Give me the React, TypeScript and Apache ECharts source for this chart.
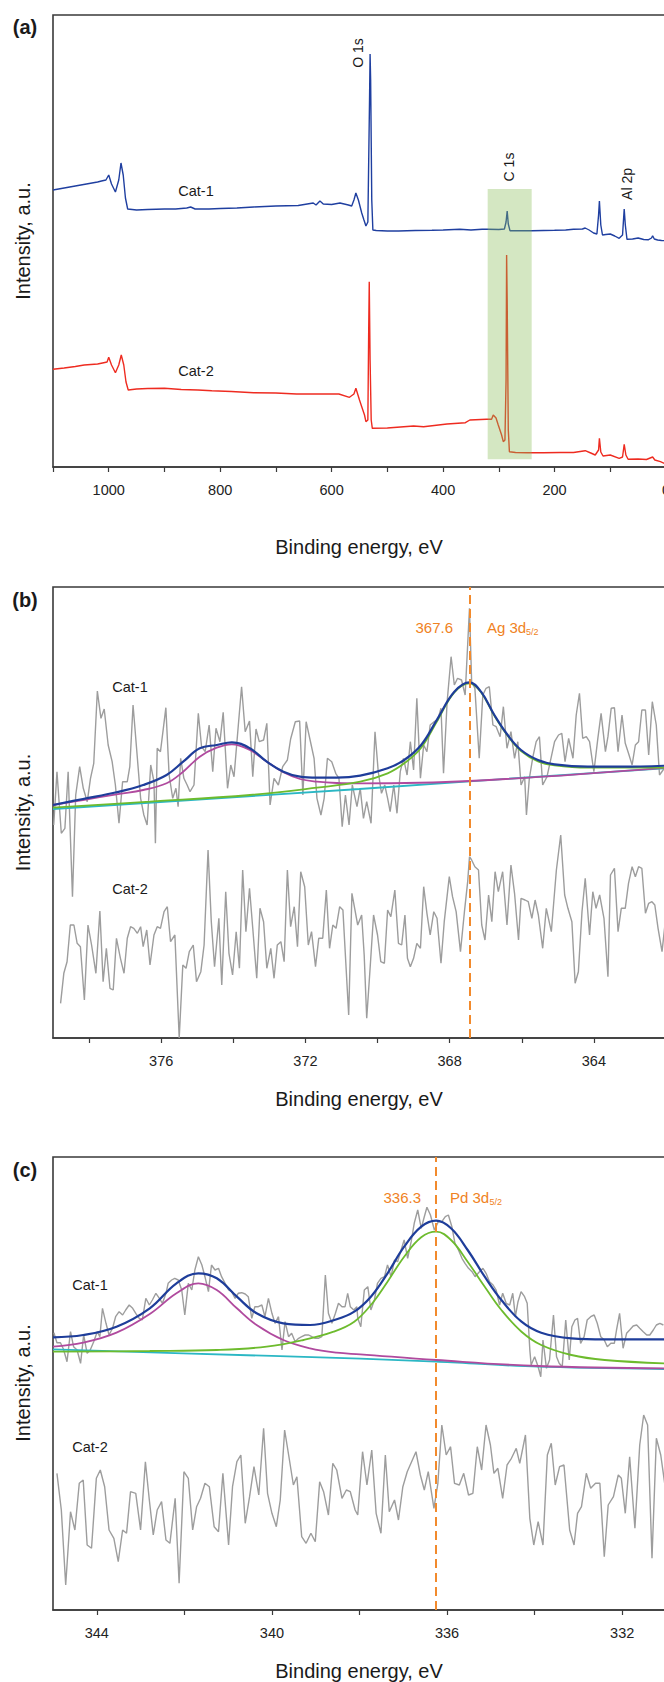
import React, { useEffect, useRef } from 'react';
import * as echarts from 'echarts';

const FONT = '"Liberation Sans", Arial, Helvetica, sans-serif';
const ORANGE = '#f08223';

// ---------- Panel (a): survey spectra [binding energy eV, intensity a.u.] ----------
const surveyCat1: [number, number][] = [
  [1100, 277], [1080, 279], [1060, 281], [1040, 283], [1020, 285], [1013, 286], [1005, 287], [1000, 292], [995, 283],
  [988, 275], [982, 287], [978, 304], [974, 292], [970, 269], [966, 258], [950, 257], [930, 257.5], [900, 258],
  [880, 258], [860, 259], [853, 260], [845, 258], [820, 258], [800, 258.5], [770, 259], [740, 260], [700, 261],
  [660, 261.5], [633, 264], [628, 262], [621, 266], [615, 263], [600, 262.5], [585, 264], [570, 262], [564, 261],
  [560, 267], [556.5, 274], [552, 267], [546, 254], [542, 247], [538.5, 241], [535, 245], [532, 367], [531, 413],
  [530, 387], [528, 267], [526, 237], [520, 236.5], [500, 236], [480, 236], [450, 236.5], [420, 236.7], [400, 237],
  [370, 237.7], [350, 237], [330, 237.7], [320, 237.7], [300, 237.5], [290, 238], [287, 245], [285, 256], [283, 243],
  [280, 236.3], [260, 236.3], [240, 236.3], [220, 236.5], [200, 236.7], [180, 237], [166, 237.7], [150, 238],
  [145, 239], [138, 237], [130, 234], [124, 233], [121, 252], [119.5, 266], [117, 242], [114, 232], [108, 232.5],
  [100, 233], [92, 231], [84, 228.7], [78, 232], [75, 258], [73, 242], [70, 227.7], [60, 228], [50, 229], [40, 227.5],
  [32, 227.2], [26, 229], [24, 231.3], [21, 228], [15, 227], [8, 226.5], [0, 226.3]
];
const surveyCat2: [number, number][] = [
  [1100, 97.7], [1080, 99], [1060, 100.5], [1044, 102], [1020, 103], [1009, 104.3], [1003, 105], [1000, 109.7],
  [995, 102], [988, 94.3], [982, 102], [977.5, 112], [973, 102], [969, 85], [965, 77], [950, 78], [930, 78.5],
  [900, 78.7], [870, 77.5], [840, 77], [815, 76.3], [780, 75.5], [740, 74.3], [700, 74], [663, 73], [620, 73],
  [587, 73], [568, 69.7], [560, 73], [556.5, 78.7], [550, 67], [546, 60.3], [541, 52], [538.5, 45.3], [535, 47],
  [533.5, 137], [532.5, 185.3], [531, 107], [529, 47], [527, 38.7], [500, 39], [453, 41], [435, 40.3], [393, 43],
  [360, 44.3], [352, 47], [322, 47.7], [313, 47.7], [310, 52], [305, 49], [301, 42], [295, 32], [292, 25.3],
  [289, 27], [287, 87], [286, 212], [285, 167], [283, 37], [281, 15.3], [270, 14.5], [250, 14.3], [220, 14.3],
  [190, 14.5], [166, 14.5], [145, 16.3], [135, 14], [127, 12], [121, 17], [119.5, 28.7], [117, 15], [113, 11],
  [100, 12], [84, 8.7], [78, 10], [75, 22.7], [72, 12], [68, 7.7], [50, 8], [35, 7.5], [24, 10], [20, 7], [10, 5.3],
  [3, 3.7], [0, 3.5]
];
// C 1s highlight band: [from eV, to eV, low intensity, high intensity]
const c1sBand: number[][] = [[320, 241, 7.7, 278]];
const surveyTicks = [0, 100, 200, 300, 400, 500, 600, 700, 800, 900, 1000, 1100];
const surveyLabels = [0, 200, 400, 600, 800, 1000];

// ---------- Panel (b): Ag 3d ----------
const agCat1: [number, number][] = [
  [378.98, 213], [378.89, 266.3], [378.77, 204.7], [378.67, 209.7], [378.58, 266.3], [378.46, 141.3], [378.37, 243],
  [378.26, 271.3], [378.16, 249.7], [378.05, 236.3], [377.96, 259.7], [377.87, 274.7], [377.77, 347], [377.67, 319.7],
  [377.58, 329], [377.47, 293], [377.36, 276.3], [377.27, 253], [377.17, 214.7], [377.07, 256.3], [376.94, 256.3],
  [376.87, 271.3], [376.78, 333], [376.66, 279.7], [376.57, 239.7], [376.48, 223], [376.39, 213], [376.29, 273],
  [376.2, 256.3], [376.16, 194.7], [376.11, 289.7], [376.02, 286.3], [375.94, 309.7], [375.87, 330.3], [375.78, 263],
  [375.68, 239.7], [375.59, 249.7], [375.53, 231.3], [375.46, 279.7], [375.37, 259.7], [375.28, 253], [375.2, 246.3],
  [375.09, 253], [374.97, 324.7], [374.88, 291.3], [374.78, 286.3], [374.67, 313], [374.57, 266.3], [374.48, 309.7],
  [374.37, 296.3], [374.28, 325.7], [374.16, 249.7], [374.07, 273], [373.98, 261.3], [373.86, 313], [373.77, 351.3],
  [373.67, 306.3], [373.55, 317], [373.46, 261.3], [373.37, 309], [373.28, 296.3], [373.16, 298], [373.07, 314.7],
  [372.98, 233], [372.87, 259.7], [372.75, 253], [372.63, 271.3], [372.5, 278], [372.41, 299], [372.28, 316.3],
  [372.16, 317], [372.07, 243], [371.98, 316.3], [371.87, 298], [371.76, 279.7], [371.68, 239.7], [371.57, 223],
  [371.48, 239.7], [371.39, 279.7], [371.27, 276.3], [371.16, 264.7], [371.07, 259.7], [370.98, 211.3], [370.89, 243],
  [370.79, 213], [370.7, 253], [370.57, 231.3], [370.48, 249.7], [370.39, 219.7], [370.3, 236.3], [370.18, 214.7],
  [370.07, 306.3], [369.98, 266.3], [369.89, 244.7], [369.8, 253], [369.72, 239.7], [369.65, 226.3], [369.55, 253],
  [369.46, 224.7], [369.37, 266.3], [369.28, 279.7], [369.18, 263], [369.09, 296.3], [369.0, 268], [368.91, 339.7],
  [368.81, 259.7], [368.72, 293], [368.63, 286.3], [368.54, 313], [368.43, 316.3], [368.33, 318], [368.24, 329.7],
  [368.17, 264.7], [368.07, 336.3], [367.96, 381.3], [367.87, 353], [367.78, 359.7], [367.67, 358], [367.57, 343],
  [367.45, 429.7], [367.39, 356.3], [367.3, 349.7], [367.18, 279.7], [367.08, 343], [366.99, 349.7], [366.9, 351.3],
  [366.8, 313], [366.71, 311.3], [366.6, 301.3], [366.51, 331.3], [366.41, 289.7], [366.3, 306.3], [366.2, 279.7],
  [366.11, 296.3], [366.02, 253], [365.92, 261.3], [365.87, 223], [365.79, 259.7], [365.69, 281.3], [365.6, 296.3],
  [365.51, 301.3], [365.42, 253], [365.3, 261.3], [365.19, 279.7], [365.09, 296.3], [364.98, 303], [364.89, 304.7],
  [364.8, 276.3], [364.7, 299.7], [364.58, 279.7], [364.49, 323], [364.4, 344.7], [364.31, 299.7], [364.21, 301.3],
  [364.12, 296.3], [364.0, 266.3], [363.89, 299.7], [363.8, 324.7], [363.68, 286.3], [363.61, 301.3], [363.52, 329.7],
  [363.43, 330.3], [363.33, 286.3], [363.22, 323], [363.13, 294.7], [363.04, 284.7], [362.94, 273], [362.85, 293],
  [362.76, 296.3], [362.67, 328], [362.57, 328], [362.48, 283], [362.38, 336.3], [362.27, 313], [362.18, 263],
  [362.08, 268], [362.02, 273]
];
const agCat2: [number, number][] = [
  [378.79, 34.7], [378.7, 64.7], [378.61, 76.3], [378.52, 113], [378.42, 113], [378.33, 94.7], [378.24, 91.3],
  [378.13, 38], [378.03, 113], [377.93, 93], [377.81, 64.7], [377.7, 127], [377.61, 56.3], [377.52, 89.7],
  [377.42, 49.7], [377.33, 48], [377.24, 99.7], [377.13, 79.7], [377.03, 64.7], [376.94, 99.7], [376.85, 111.3],
  [376.76, 109.7], [376.66, 104.7], [376.57, 111.3], [376.5, 91.3], [376.4, 108], [376.31, 73], [376.2, 103],
  [376.11, 111.3], [376.02, 109.7], [375.92, 126.3], [375.83, 131.3], [375.74, 96.3], [375.62, 103], [375.5, 0],
  [375.4, 73], [375.31, 69.7], [375.22, 86.3], [375.11, 93], [375.02, 56.3], [374.9, 66.3], [374.81, 93], [374.7, 188],
  [374.61, 116.3], [374.52, 71.3], [374.4, 119.7], [374.32, 53], [374.21, 146.3], [374.12, 84.7], [374.02, 63],
  [373.92, 106.3], [373.83, 69.7], [373.74, 168], [373.65, 106.3], [373.55, 149.7], [373.46, 109.7], [373.35, 59.7],
  [373.26, 129.7], [373.16, 116.3], [373.07, 69.7], [372.96, 89.7], [372.87, 59.7], [372.78, 93], [372.68, 96.3],
  [372.59, 76.3], [372.5, 168], [372.41, 111.3], [372.31, 131.3], [372.22, 91.3], [372.13, 166.3], [372.02, 151.3],
  [371.92, 93], [371.83, 106.3], [371.72, 71.3], [371.63, 99.7], [371.52, 99.7], [371.42, 148], [371.33, 89.7],
  [371.24, 113], [371.15, 109.7], [371.05, 131.3], [370.96, 128], [370.8, 23], [370.71, 144.7], [370.55, 113],
  [370.44, 123], [370.37, 83], [370.3, 19.7], [370.2, 73], [370.11, 123], [370.0, 103], [369.91, 76.3], [369.81, 74.7],
  [369.72, 128], [369.63, 121.3], [369.52, 148], [369.42, 94.7], [369.33, 93], [369.24, 123], [369.17, 79.7],
  [369.09, 71.3], [369.0, 79.7], [368.91, 94.7], [368.81, 89.7], [368.72, 151.3], [368.63, 124.7], [368.54, 103],
  [368.44, 126.3], [368.35, 119.7], [368.24, 74.7], [368.15, 116.3], [368.01, 161.3], [367.92, 141.3], [367.82, 126.3],
  [367.7, 86.3], [367.59, 126.3], [367.5, 156.3], [367.45, 181.3], [367.39, 178], [367.3, 171.3], [367.2, 168],
  [367.11, 113], [367.02, 98], [366.92, 143], [366.83, 116.3], [366.74, 166.3], [366.65, 146.3], [366.53, 166.3],
  [366.41, 113], [366.3, 173], [366.2, 144.7], [366.09, 98], [366.02, 139.7], [365.91, 138], [365.82, 136.3],
  [365.72, 119.7], [365.63, 138], [365.54, 123], [365.42, 89.7], [365.32, 129.7], [365.18, 106.3], [365.04, 168],
  [364.92, 203], [364.81, 143], [364.72, 129.7], [364.61, 116.3], [364.52, 54.7], [364.43, 66.3], [364.33, 126.3],
  [364.24, 159.7], [364.12, 103], [364.03, 146.3], [363.94, 129.7], [363.84, 143], [363.72, 119.7], [363.61, 61.3],
  [363.54, 163], [363.43, 169.7], [363.33, 106.3], [363.24, 129.7], [363.13, 129.7], [363.04, 154.7], [362.94, 171.3],
  [362.85, 161.3], [362.76, 171.3], [362.67, 169.7], [362.57, 124.7], [362.48, 134.7], [362.39, 136.3], [362.31, 133],
  [362.22, 109.7], [362.11, 86.3], [362.02, 116.3]
];
const agBaseline: [number, number][] = [[379, 229], [370.5, 249], [367.45, 256.7], [362, 269.7]];
const agPeak32: [number, number][] = [
  [379, 233], [378.17, 238], [377.24, 243.7], [376.5, 248], [375.85, 254.7], [375.39, 266.3], [374.93, 281.3],
  [374.46, 290.3], [374.04, 293.7], [373.54, 288], [373.07, 276.3], [372.61, 265.7], [372.15, 259], [371.68, 256.3],
  [371.13, 255], [370.48, 254.7], [367.45, 257], [362.02, 270.3]
];
const agPeak52: [number, number][] = [
  [379, 230.3], [376.31, 236.3], [373.54, 243], [371.68, 250.3], [370.48, 256.3], [369.72, 264.7], [369.26, 274.7],
  [368.79, 290.3], [368.33, 318], [367.87, 345.7], [367.45, 354.7], [367.13, 345.7], [366.76, 322.3], [366.39, 302.3],
  [366.02, 287], [365.55, 276.7], [365.09, 272.7], [364.17, 270.3], [363.24, 270.3], [362.02, 270.3]
];
const agEnvelope: [number, number][] = [
  [379, 233], [378.17, 239], [377.24, 245.7], [376.5, 253], [375.85, 263], [375.39, 276.3], [374.93, 289.7],
  [374.46, 293], [374.04, 295.7], [373.54, 289.7], [373.07, 276.3], [372.61, 266.3], [372.15, 261.3], [371.68, 260.3],
  [371.13, 260.3], [370.48, 262.3], [369.72, 269.7], [369.26, 278], [368.79, 293], [368.33, 319.7], [367.87, 346.3],
  [367.45, 355.7], [367.13, 346.3], [366.76, 323], [366.39, 303], [366.02, 288], [365.55, 278], [365.09, 273.7],
  [364.17, 271.3], [363.24, 271.3], [362.02, 272.3]
];
const agPosition = 367.45;
const agTicks = [364, 366, 368, 370, 372, 374, 376, 378];
const agLabels = [364, 368, 372, 376];

// ---------- Panel (c): Pd 3d ----------
const pdCat1: [number, number][] = [
  [344.98, 277.3], [344.91, 267.3], [344.83, 267.3], [344.76, 260.7], [344.68, 248.3], [344.6, 278.3], [344.53, 263.3],
  [344.45, 260], [344.37, 246.7], [344.3, 275], [344.22, 256.7], [344.15, 260], [344.07, 268.3], [343.99, 278.3],
  [343.93, 273.3], [343.87, 301.7], [343.79, 286.7], [343.72, 275], [343.64, 281.7], [343.57, 293.3], [343.49, 298.3],
  [343.41, 295], [343.34, 300], [343.26, 305], [343.18, 301.7], [343.11, 296.7], [343.03, 291.7], [342.96, 290],
  [342.88, 311.7], [342.8, 305], [342.73, 310], [342.65, 316.7], [342.57, 311.7], [342.5, 306.7], [342.42, 316.7],
  [342.37, 326.7], [342.29, 330], [342.22, 331.7], [342.14, 330], [342.06, 320], [341.99, 295], [341.91, 326.7],
  [341.83, 320], [341.76, 340], [341.68, 353.3], [341.6, 345], [341.53, 333.3], [341.45, 318.3], [341.38, 345],
  [341.3, 340], [341.22, 341.7], [341.15, 333.3], [341.07, 326.7], [340.99, 320], [340.92, 318.3], [340.84, 311.7],
  [340.77, 316.7], [340.69, 317.3], [340.61, 316], [340.54, 313.3], [340.46, 291.7], [340.39, 303.3], [340.31, 303.3],
  [340.23, 305], [340.16, 293.3], [340.08, 311.7], [340.0, 296.7], [339.93, 286.7], [339.85, 293.3], [339.77, 260],
  [339.7, 288.3], [339.62, 273.3], [339.55, 276.7], [339.47, 268.3], [339.39, 271.7], [339.32, 273.3], [339.24, 275],
  [339.16, 275], [339.09, 273.3], [339.01, 271.7], [338.94, 271.7], [338.86, 273.3], [338.78, 335], [338.71, 296.7],
  [338.63, 286.7], [338.55, 296.7], [338.48, 306.7], [338.4, 303.3], [338.33, 303.3], [338.27, 316.7], [338.21, 303.3],
  [338.13, 300], [338.06, 303.3], [338.04, 291.7], [337.97, 283.3], [337.89, 320], [337.81, 323.3], [337.74, 300],
  [337.66, 310], [337.59, 326.7], [337.51, 331.7], [337.43, 333.3], [337.36, 345], [337.28, 333.3], [337.2, 350],
  [337.13, 348.3], [337.05, 360], [336.98, 370], [336.9, 351.7], [336.82, 368.3], [336.75, 386.7], [336.67, 400],
  [336.59, 381.7], [336.52, 393.3], [336.46, 402.7], [336.38, 395], [336.29, 380], [336.2, 388.3], [336.12, 388.3],
  [336.04, 393.3], [335.97, 395], [335.89, 383.3], [335.82, 366.7], [335.74, 360], [335.66, 351.7], [335.59, 346.7],
  [335.51, 341.7], [335.43, 338.3], [335.36, 333.3], [335.26, 338.3], [335.18, 341.7], [335.11, 336.7], [335.03, 328.3],
  [334.95, 325], [334.88, 320], [334.8, 305], [334.73, 316.7], [334.65, 306.7], [334.57, 305], [334.5, 316.7],
  [334.44, 293.3], [334.38, 308.3], [334.31, 318.3], [334.23, 313.3], [334.17, 306.7], [334.11, 260], [334.08, 245],
  [334.0, 253.3], [333.92, 243.3], [333.86, 233.3], [333.81, 270], [333.73, 241.7], [333.66, 250], [333.57, 295],
  [333.5, 253.3], [333.44, 246.7], [333.37, 243.3], [333.29, 290], [333.21, 250], [333.15, 283.3], [333.08, 290],
  [333.02, 291.7], [332.95, 266.7], [332.87, 273.3], [332.8, 290], [332.72, 293.3], [332.64, 295], [332.57, 286.7],
  [332.49, 273.3], [332.41, 270], [332.34, 263.3], [332.26, 266.7], [332.18, 266.7], [332.13, 280], [332.06, 296.7],
  [331.98, 261.7], [331.9, 276.7], [331.83, 280], [331.75, 284], [331.67, 285], [331.6, 281.7], [331.52, 278.3],
  [331.44, 275], [331.37, 275], [331.29, 280], [331.22, 285], [331.14, 286.7], [331.06, 285]
];
const pdCat2: [number, number][] = [
  [344.91, 136.7], [344.81, 100], [344.71, 25], [344.6, 98.3], [344.5, 80], [344.4, 126.7], [344.31, 130],
  [344.22, 65], [344.12, 61.7], [344.01, 131.7], [343.92, 140], [343.82, 123.3], [343.72, 80], [343.61, 71.7],
  [343.51, 48.3], [343.41, 80], [343.32, 76.7], [343.23, 118.3], [343.11, 116.7], [343.0, 80], [342.89, 148.3],
  [342.8, 110], [342.71, 75], [342.62, 100], [342.52, 108.3], [342.42, 70], [342.33, 66.7], [342.21, 111.7],
  [342.12, 26.7], [342.01, 138.3], [341.91, 131.7], [341.81, 80], [341.72, 103.3], [341.63, 111.7], [341.53, 126.7],
  [341.43, 123.3], [341.32, 83.3], [341.22, 78.3], [341.12, 136.7], [340.99, 65], [340.9, 123.3], [340.8, 148.3],
  [340.71, 155], [340.61, 86.7], [340.51, 113.3], [340.41, 143.3], [340.3, 115], [340.19, 181.7], [340.1, 116.7],
  [340.0, 96.7], [339.9, 83.3], [339.81, 110], [339.71, 180], [339.6, 150], [339.51, 125], [339.43, 133.3],
  [339.32, 73.3], [339.22, 66.7], [339.11, 76.7], [339.01, 68.3], [338.91, 128.3], [338.82, 118.3], [338.71, 95],
  [338.61, 146.7], [338.52, 140], [338.4, 111.7], [338.3, 120], [338.21, 118.3], [338.1, 100], [338.04, 95],
  [337.93, 158.3], [337.83, 125], [337.72, 160], [337.62, 96.7], [337.51, 76.7], [337.41, 155], [337.32, 98.3],
  [337.2, 110], [337.11, 90], [337.01, 123.3], [336.91, 138.3], [336.81, 148.3], [336.71, 158.3], [336.61, 135],
  [336.52, 120], [336.43, 138.3], [336.3, 101.7], [336.21, 126.7], [336.12, 185], [336.02, 155], [335.92, 163.3],
  [335.83, 126.7], [335.72, 125], [335.62, 136.7], [335.51, 115], [335.41, 116.7], [335.31, 163.3], [335.21, 140],
  [335.11, 185], [335.01, 165], [334.93, 136.7], [334.84, 141.7], [334.73, 111.7], [334.63, 145], [334.53, 151.7],
  [334.42, 161.7], [334.34, 146.7], [334.21, 175], [334.11, 91.7], [334.02, 65], [333.92, 88.3], [333.81, 65],
  [333.71, 155], [333.62, 166.7], [333.53, 125], [333.43, 143.3], [333.33, 145], [333.2, 80], [333.1, 65],
  [333.02, 96.7], [332.93, 103.3], [332.82, 136.7], [332.72, 121.7], [332.61, 126.7], [332.51, 126.7], [332.41, 53.3],
  [332.32, 105], [332.2, 113.3], [332.09, 135], [332.02, 131.7], [331.93, 96.7], [331.83, 153.3], [331.71, 81.7],
  [331.6, 165], [331.51, 195], [331.42, 185], [331.32, 51.7], [331.22, 171.7], [331.12, 155], [331.03, 126.7]
];
const pdBaseline: [number, number][] = [[345, 260.7], [342.03, 256.7], [337.98, 251.3], [336.25, 248.3], [333.92, 243.3], [331.03, 241]];
const pdPeak32: [number, number][] = [
  [345, 263.3], [344.31, 267.3], [343.55, 277.3], [342.79, 296], [342.18, 316.7], [341.68, 326.7], [341.26, 320],
  [340.8, 301.7], [340.35, 285], [339.74, 270], [339.13, 261.7], [338.52, 257.3], [337.98, 255.7], [336.25, 250],
  [333.92, 244], [331.03, 241.7]
];
const pdPeak52: [number, number][] = [
  [345, 258.3], [342.79, 259], [341.26, 260], [340.12, 263.3], [339.28, 270], [338.59, 278.3], [338.12, 288.3],
  [337.74, 305], [337.36, 328.3], [336.98, 353.3], [336.59, 372.7], [336.25, 378.3], [335.91, 370], [335.53, 348.3],
  [335.14, 323.3], [334.76, 300], [334.3, 278.3], [333.85, 265], [333.16, 255], [332.4, 250], [331.03, 246.7]
];
const pdEnvelope: [number, number][] = [
  [345, 272.7], [344.31, 275], [343.55, 283.3], [342.79, 301.7], [342.18, 326.7], [341.68, 336.7], [341.26, 331.7],
  [340.8, 313.3], [340.35, 296.7], [339.74, 286.7], [339.13, 285], [338.52, 290.7], [338.12, 298.3], [337.74, 313.3],
  [337.36, 336.7], [336.98, 363.3], [336.59, 383.3], [336.25, 389.3], [335.91, 381.7], [335.53, 360], [335.14, 333.3],
  [334.76, 310], [334.3, 288.3], [333.85, 277.3], [333.16, 271.7], [332.4, 270.7], [331.03, 270.7]
];
const pdPosition = 336.25;
const pdTicks = [332, 334, 336, 338, 340, 342, 344];
const pdLabels = [332, 336, 340, 344];

// ---------- layout ----------
const GRID_LEFT = 53;
const GRID_WIDTH = 613;
const panels = [
  { top: 15, height: 452 },
  { top: 587, height: 451 },
  { top: 1157, height: 453 }
];

function xAxisFor(idx: number, min: number, max: number, ticks: number[], labels: number[]) {
  return {
    type: 'value',
    gridIndex: idx,
    min,
    max,
    inverse: true,
    axisLine: { show: true, onZero: false, lineStyle: { color: '#3a3a3a', width: 1.6 } },
    axisTick: { show: true, inside: false, length: 5, customValues: ticks, lineStyle: { color: '#3a3a3a', width: 1.2 } },
    axisLabel: {
      show: true,
      margin: 15,
      customValues: labels,
      formatter: (v: number) => String(v),
      color: '#222',
      fontSize: 14.5,
      fontFamily: FONT,
      hideOverlap: false
    },
    splitLine: { show: false }
  };
}

function lineSeries(idx: number, data: [number, number][], color: string, width: number, z: number, smooth: boolean | number = false, extra: any = {}) {
  return {
    type: 'line',
    xAxisIndex: idx,
    yAxisIndex: idx,
    data,
    showSymbol: false,
    symbol: 'none',
    smooth,
    z,
    lineStyle: { color, width },
    silent: true,
    ...extra
  };
}

function text(x: number, y: number, t: string, opts: any = {}) {
  return {
    type: 'text',
    x,
    y,
    rotation: opts.rotation || 0,
    silent: true,
    style: {
      text: t,
      fontSize: opts.fontSize || 14.5,
      fontFamily: FONT,
      fontWeight: opts.fontWeight || 'normal',
      fill: opts.fill || '#1a1a1a',
      align: opts.align || 'center',
      verticalAlign: 'middle'
    }
  };
}

function dashed(pos: number) {
  return {
    silent: true,
    symbol: ['none', 'none'],
    label: { show: false },
    lineStyle: { color: '#f28a2c', type: [9, 5], width: 2 },
    data: [{ xAxis: pos }]
  };
}

export default function App() {
  const ref = useRef<HTMLDivElement>(null);
  useEffect(() => {
    document.body.style.margin = '0';
    if (!ref.current) return;
    const chart = echarts.init(ref.current, undefined, { renderer: 'svg' });
    const GRAY = '#9d9d9d';
    const option: any = {
      animation: false,
      backgroundColor: '#ffffff',
      grid: panels.map((p) => ({
        left: GRID_LEFT,
        width: GRID_WIDTH,
        top: p.top,
        height: p.height,
        show: true,
        containLabel: false,
        outerBoundsMode: 'none',
        borderColor: '#3a3a3a',
        borderWidth: 1.6,
        backgroundColor: 'transparent'
      })),
      xAxis: [
        xAxisFor(0, 0, 1100, surveyTicks, surveyLabels),
        xAxisFor(1, 362, 379, agTicks, agLabels),
        xAxisFor(2, 331, 345, pdTicks, pdLabels)
      ],
      yAxis: panels.map((p, i) => ({ type: 'value', gridIndex: i, min: 0, max: p.height, show: false })),
      series: [
        lineSeries(0, surveyCat1, '#1f3fa0', 1.4, 2),
        lineSeries(0, surveyCat2, '#ee2b20', 1.4, 2),
        {
          type: 'custom',
          xAxisIndex: 0,
          yAxisIndex: 0,
          data: c1sBand,
          encode: { x: [0, 1], y: [2, 3] },
          z: 5,
          silent: true,
          renderItem: (params: any, api: any) => {
            const p1 = api.coord([api.value(0), api.value(3)]);
            const p2 = api.coord([api.value(1), api.value(2)]);
            return {
              type: 'rect',
              shape: {
                x: Math.min(p1[0], p2[0]),
                y: Math.min(p1[1], p2[1]),
                width: Math.abs(p2[0] - p1[0]),
                height: Math.abs(p2[1] - p1[1])
              },
              style: { fill: 'rgba(135,189,86,0.36)' }
            };
          }
        },
        lineSeries(1, agCat1, GRAY, 1.4, 2, false, { markLine: dashed(agPosition) }),
        lineSeries(1, agCat2, GRAY, 1.4, 2),
        lineSeries(1, agBaseline, '#2bb7c4', 1.8, 3),
        lineSeries(1, agPeak32, '#b04a9e', 1.8, 3, 0.4),
        lineSeries(1, agPeak52, '#6dbb2d', 1.8, 3, 0.4),
        lineSeries(1, agEnvelope, '#1e3d9a', 2.2, 4, 0.4),
        lineSeries(2, pdCat1, GRAY, 1.4, 2, false, { markLine: dashed(pdPosition) }),
        lineSeries(2, pdCat2, GRAY, 1.4, 2),
        lineSeries(2, pdBaseline, '#2bb7c4', 1.8, 3, 0.3),
        lineSeries(2, pdPeak32, '#b04a9e', 1.8, 3, 0.4),
        lineSeries(2, pdPeak52, '#6dbb2d', 1.8, 3, 0.4),
        lineSeries(2, pdEnvelope, '#1e3d9a', 2.2, 4, 0.4)
      ],
      graphic: [
        // panel letters
        text(25, 27, '(a)', { fontSize: 20, fontWeight: 'bold' }),
        text(25, 600, '(b)', { fontSize: 20, fontWeight: 'bold' }),
        text(25, 1170, '(c)', { fontSize: 20, fontWeight: 'bold' }),
        // y titles
        text(23, 241, 'Intensity, a.u.', { fontSize: 20, rotation: Math.PI / 2 }),
        text(23, 812.5, 'Intensity, a.u.', { fontSize: 20, rotation: Math.PI / 2 }),
        text(23, 1383, 'Intensity, a.u.', { fontSize: 20, rotation: Math.PI / 2 }),
        // x titles
        text(359, 547, 'Binding energy, eV', { fontSize: 20 }),
        text(359, 1099, 'Binding energy, eV', { fontSize: 20 }),
        text(359, 1671, 'Binding energy, eV', { fontSize: 20 }),
        // panel (a) labels
        text(196, 191, 'Cat-1'),
        text(196, 371, 'Cat-2'),
        text(358, 53, 'O 1s', { fontSize: 14, rotation: Math.PI / 2 }),
        text(509, 167, 'C 1s', { fontSize: 14, rotation: Math.PI / 2 }),
        text(627, 184, 'Al 2p', { fontSize: 14, rotation: Math.PI / 2 }),
        // panel (b) labels
        text(130, 687, 'Cat-1'),
        text(130, 889, 'Cat-2'),
        text(453, 627, '367.6', { fontSize: 15, fill: ORANGE, align: 'right' }),
        text(487, 627, 'Ag 3d', { fontSize: 15, fill: ORANGE, align: 'left' }),
        text(526, 631.5, '5/2', { fontSize: 9, fill: ORANGE, align: 'left' }),
        // panel (c) labels
        text(90, 1285, 'Cat-1'),
        text(90, 1447, 'Cat-2'),
        text(421, 1197, '336.3', { fontSize: 15, fill: ORANGE, align: 'right' }),
        text(450, 1197, 'Pd 3d', { fontSize: 15, fill: ORANGE, align: 'left' }),
        text(489.5, 1201.5, '5/2', { fontSize: 9, fill: ORANGE, align: 'left' })
      ]
    };
    chart.setOption(option);
    return () => chart.dispose();
  }, []);
  return <div ref={ref} style={{ width: 664, height: 1682 }} />;
}
